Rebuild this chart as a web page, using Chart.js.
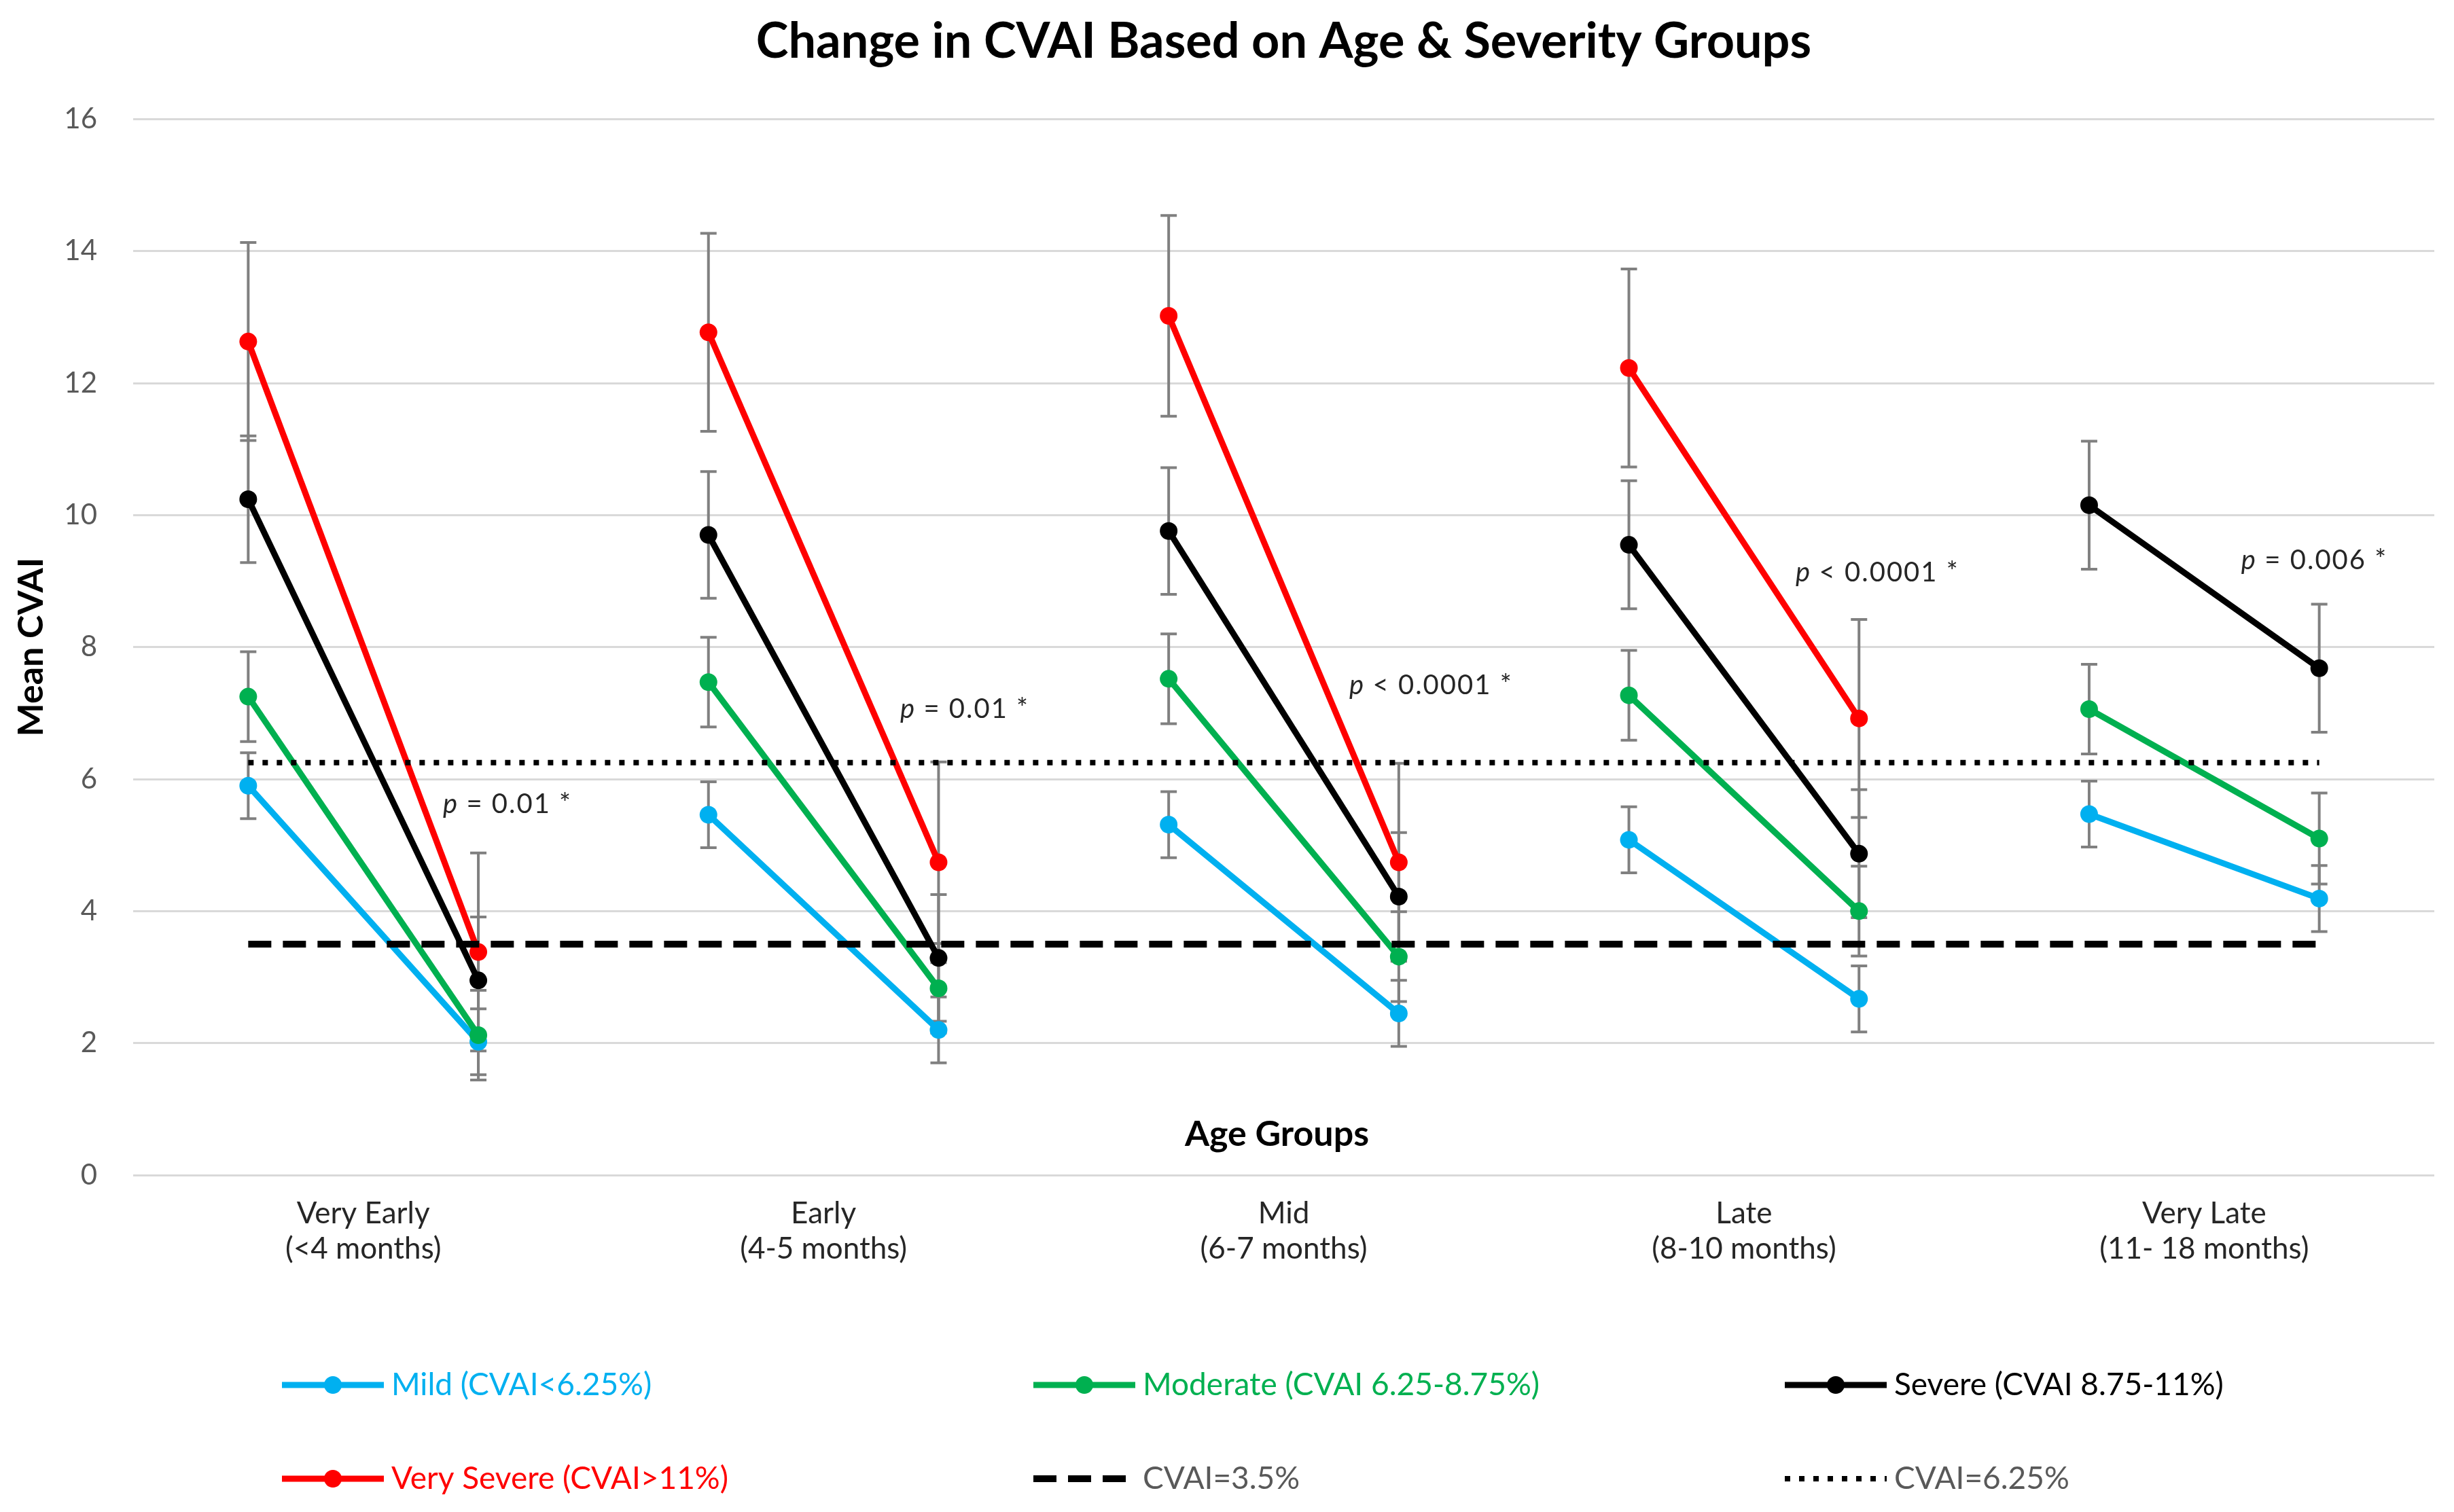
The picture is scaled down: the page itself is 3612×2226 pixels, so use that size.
<!DOCTYPE html>
<html><head><meta charset="utf-8">
<script src="https://cdn.jsdelivr.net/npm/chart.js@4/dist/chart.umd.min.js"></script>
<style>html,body{margin:0;padding:0;background:#fff;} #wrap{width:3612px;height:2226px;}</style>
</head><body><div id="wrap"><canvas id="c" width="3612" height="2226"></canvas></div>
<script>
// ---- data ----
const categories = ['Very Early pre','Very Early post','Early pre','Early post','Mid pre','Mid post','Late pre','Late post','Very Late pre','Very Late post'];
const groupLabels = [['Very Early','(<4 months)'],['Early','(4-5 months)'],['Mid','(6-7 months)'],['Late','(8-10 months)'],['Very Late','(11- 18 months)']];
const mild       = [5.90, 2.02, 5.46, 2.20, 5.31, 2.45, 5.08, 2.67, 5.47, 4.19];
const moderate   = [7.25, 2.12, 7.47, 2.83, 7.52, 3.31, 7.27, 4.00, 7.06, 5.10];
const severe     = [10.24, 2.95, 9.70, 3.29, 9.76, 4.22, 9.55, 4.87, 10.15, 7.68];
const verySevere = [12.63, 3.38, 12.77, 4.74, 13.02, 4.74, 12.23, 6.92, null, null];
const mildErr       = [0.50, 0.50, 0.50, 0.50, 0.50, 0.50, 0.50, 0.50, 0.50, 0.50];
const moderateErr   = [0.68, 0.68, 0.68, 0.68, 0.68, 0.68, 0.68, 0.68, 0.68, 0.69];
const severeErr     = [0.96, 0.96, 0.96, 0.96, 0.96, 0.97, 0.97, 0.97, 0.97, 0.97];
const verySevereErr = [1.50, 1.50, 1.50, 1.52, 1.52, 1.50, 1.50, 1.50, null, null];
const cvai35  = [3.5, 3.5, 3.5, 3.5, 3.5, 3.5, 3.5, 3.5, 3.5, 3.5];
const cvai625 = [6.25, 6.25, 6.25, 6.25, 6.25, 6.25, 6.25, 6.25, 6.25, 6.25];
const yTicks = [0, 2, 4, 6, 8, 10, 12, 14, 16];
const pTexts = ['= 0.01 *', '= 0.01 *', '< 0.0001 *', '< 0.0001 *', '= 0.006 *'];
const pValuesY = [5.62, 7.06, 7.42, 9.13, 9.31];
const seriesNames = ['Mild (CVAI<6.25%)', 'Moderate (CVAI 6.25-8.75%)', 'Severe (CVAI 8.75-11%)', 'Very Severe (CVAI>11%)', 'CVAI=3.5%', 'CVAI=6.25%'];

// ---- styles ----
const FONT = 'Lato';
const pAnchorX = [0.846, 2.833, 4.785, 6.725, 8.661]; // fractional category positions of annotation left edges
const breakSeg = { borderColor: ctx => (ctx.p0DataIndex % 2 === 1 ? 'rgba(0,0,0,0)' : undefined) };

function seriesDs(label, data, err, color, order) {
  return { label, data, err, borderColor: color, backgroundColor: color, pointBackgroundColor: color,
    pointBorderWidth: 0, pointRadius: 13, pointHoverRadius: 13, borderWidth: 9, spanGaps: false,
    segment: breakSeg, order, legendText: color, xAxisID: 'x', yAxisID: 'y' };
}
const datasets = [
  seriesDs(seriesNames[0], mild, mildErr, '#00B0F0', 6),
  seriesDs(seriesNames[1], moderate, moderateErr, '#00B050', 5),
  seriesDs(seriesNames[2], severe, severeErr, '#000000', 4),
  seriesDs(seriesNames[3], verySevere, verySevereErr, '#FF0000', 3),
  { label: seriesNames[4], data: cvai35, borderColor: '#000000', borderWidth: 10, borderDash: [34, 17],
    pointRadius: 0, order: 2, legendText: '#595959', xAxisID: 'x', yAxisID: 'y' },
  { label: seriesNames[5], data: cvai625, borderColor: '#000000', borderWidth: 8, borderDash: [8, 13],
    pointRadius: 0, order: 1, legendText: '#595959', xAxisID: 'x', yAxisID: 'y' }
];

const errorBars = {
  id: 'errorBars',
  beforeDatasetsDraw(chart) {
    const {ctx, scales: {x, y}} = chart;
    ctx.save();
    ctx.strokeStyle = '#808080';
    ctx.lineWidth = 4;
    chart.data.datasets.forEach(ds => {
      if (!ds.err) return;
      ds.data.forEach((v, i) => {
        const e = ds.err[i];
        if (v == null || e == null) return;
        const px = x.getPixelForValue(i);
        const yt = y.getPixelForValue(v + e), yb = y.getPixelForValue(v - e);
        ctx.beginPath();
        ctx.moveTo(px, yt); ctx.lineTo(px, yb);
        ctx.moveTo(px - 12, yt); ctx.lineTo(px + 12, yt);
        ctx.moveTo(px - 12, yb); ctx.lineTo(px + 12, yb);
        ctx.stroke();
      });
    });
    ctx.restore();
  }
};

const overlays = {
  id: 'overlays',
  afterDraw(chart) {
    const {ctx, chartArea, scales: {x, y}} = chart;
    ctx.save();
    // p-value annotations
    ctx.fillStyle = '#262626';
    ctx.textBaseline = 'middle';
    ctx.textAlign = 'left';
    if ('letterSpacing' in ctx) ctx.letterSpacing = '2px';
    pTexts.forEach((t, k) => {
      const px = x.getPixelForValue(pAnchorX[k]);
      const py = y.getPixelForValue(pValuesY[k]);
      ctx.font = 'italic 40px ' + FONT;
      ctx.fillText('p', px, py);
      const w = ctx.measureText('p ').width;
      ctx.font = '40px ' + FONT;
      ctx.fillText(t, px + w, py);
    });
    if ('letterSpacing' in ctx) ctx.letterSpacing = '0px';
    // Age Groups label inside plot
    ctx.font = 'bold 52px ' + FONT;
    ctx.fillStyle = '#000000';
    ctx.textAlign = 'center';
    ctx.fillText('Age Groups', (chartArea.left + chartArea.right) / 2 - 10, chartArea.bottom - 60);
    // legend
    const cols = [415, 1521, 2627];
    const rows = [2039, 2177];
    chart.data.datasets.forEach((ds, i) => {
      const lx = cols[i % 3], ly = rows[Math.floor(i / 3)];
      ctx.save();
      ctx.strokeStyle = ds.borderColor;
      ctx.lineWidth = ds.borderWidth;
      ctx.setLineDash(ds.borderDash || []);
      ctx.beginPath();
      ctx.moveTo(lx, ly); ctx.lineTo(lx + 150, ly);
      ctx.stroke();
      ctx.restore();
      if (ds.pointRadius > 0) {
        ctx.fillStyle = ds.borderColor;
        ctx.beginPath();
        ctx.arc(lx + 75, ly, ds.pointRadius, 0, Math.PI * 2);
        ctx.fill();
      }
      ctx.font = '46px ' + FONT;
      ctx.fillStyle = ds.legendText;
      ctx.textAlign = 'left';
      ctx.textBaseline = 'middle';
      ctx.fillText(ds.label, lx + 161, ly);
    });
    ctx.restore();
  }
};

new Chart(document.getElementById('c'), {
  type: 'line',
  data: { labels: categories, datasets },
  plugins: [errorBars, overlays],
  options: {
    responsive: false,
    devicePixelRatio: 1,
    animation: false,
    events: [],
    layout: { padding: { left: 0, right: 29, top: 0, bottom: 0 } },
    plugins: {
      legend: { display: false },
      tooltip: { enabled: false },
      title: {
        display: true,
        fullSize: false,
        text: 'Change in CVAI Based on Age & Severity Groups',
        color: '#000000',
        font: { family: FONT, size: 72, weight: 'bold' },
        padding: { top: 19, bottom: 70 }
      }
    },
    scales: {
      x: { type: 'category', display: false, offset: true },
      x2: {
        type: 'category', labels: groupLabels, offset: true, position: 'bottom',
        grid: { display: false, drawTicks: false }, border: { display: false },
        ticks: { color: '#262626', font: { family: FONT, size: 44 }, padding: 30, maxRotation: 0, autoSkip: false },
        afterFit(s) { s.height = 496; }
      },
      y: {
        min: 0, max: 16,
        afterBuildTicks(s) { s.ticks = yTicks.map(v => ({ value: v })); },
        grid: { color: '#D9D9D9', lineWidth: 3, drawTicks: false },
        border: { display: false },
        ticks: { color: '#595959', font: { family: FONT, size: 42 }, padding: 53 },
        title: { display: true, text: 'Mean CVAI', color: '#000000', font: { family: FONT, size: 52, weight: 'bold' }, padding: { top: 15, bottom: 0 } },
        afterFit(s) { s.width = 196; }
      }
    }
  }
});
</script></body></html>
